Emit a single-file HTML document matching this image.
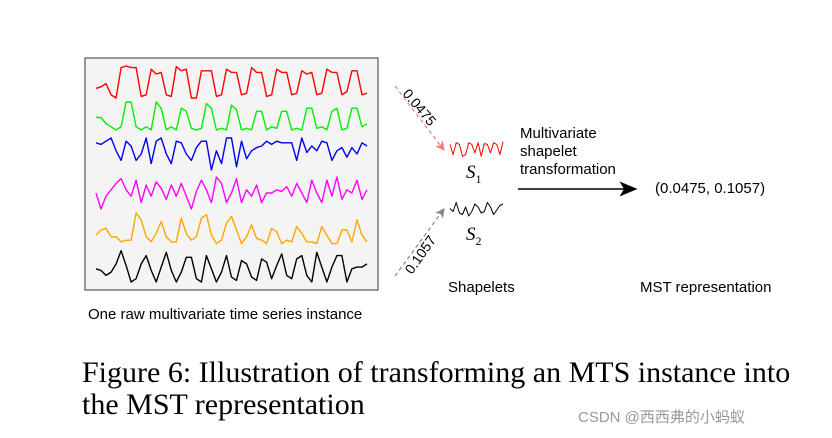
<!DOCTYPE html>
<html><head><meta charset="utf-8"><style>
body{margin:0;background:#fff;}
#c{position:relative;width:832px;height:438px;overflow:hidden;font-family:"Liberation Sans",sans-serif;}
.t{position:absolute;white-space:nowrap;color:#000;}
</style></head><body>
<div id="c">
<svg id="svg" width="832" height="438" style="position:absolute;left:0;top:0">
<defs>
<marker id="ar" markerWidth="8" markerHeight="8" refX="7" refY="4" orient="auto"><path d="M0,0L8,4L0,8L2,4z" fill="#f08080"/></marker>
<marker id="ag" markerWidth="8" markerHeight="8" refX="7" refY="4" orient="auto"><path d="M0,0L8,4L0,8L2,4z" fill="#888"/></marker>
<marker id="ab" markerWidth="12" markerHeight="10" refX="11" refY="5" orient="auto"><path d="M0,0L12,5L0,10L3,5z" fill="#000"/></marker>
</defs>
<rect x="85" y="58" width="293" height="232" fill="#f4f4f4" stroke="#555" stroke-width="1.2"/>
<g id="series"></g>
<line x1="395" y1="86" x2="444" y2="150" stroke="#f08080" stroke-width="1.2" stroke-dasharray="4,3" marker-end="url(#ar)"/>
<line x1="395" y1="276" x2="444" y2="209" stroke="#888" stroke-width="1.2" stroke-dasharray="4,3" marker-end="url(#ag)"/>
<line x1="518" y1="189" x2="636" y2="189" stroke="#000" stroke-width="1.5" marker-end="url(#ab)"/>
<text x="402" y="94" font-size="14" transform="rotate(50 402 94)" font-family="Liberation Sans">0.0475</text>
<text x="412" y="275" font-size="14" transform="rotate(-55 412 275)" font-family="Liberation Sans">0.1057</text>
</svg>
<div class="t" style="left:466px;top:162px;font-family:'Liberation Serif',serif;font-style:italic;font-size:19px">S<sub style="font-style:normal;font-size:12px">1</sub></div>
<div class="t" style="left:466px;top:224px;font-family:'Liberation Serif',serif;font-style:italic;font-size:19px">S<sub style="font-style:normal;font-size:12px">2</sub></div>
<div class="t" style="left:520px;top:125px;font-size:15px;line-height:18px">Multivariate<br>shapelet<br>transformation</div>
<div class="t" style="left:655px;top:180px;font-size:15px">(0.0475, 0.1057)</div>
<div class="t" style="left:448px;top:279px;font-size:15px">Shapelets</div>
<div class="t" style="left:640px;top:279px;font-size:15px">MST representation</div>
<div class="t" style="left:88px;top:306px;font-size:15px">One raw multivariate time series instance</div>
<div class="t" style="left:82px;top:357px;font-family:'Liberation Serif',serif;font-size:30px;line-height:32px">Figure 6: Illustration of transforming an MTS instance into<br>the MST representation</div>
<div class="t" style="left:578px;top:406px;font-size:15px;color:#999;font-family:'Liberation Sans','Noto Sans CJK SC',sans-serif">CSDN @西西弗的小蚂蚁</div>
</div>
<script>
const redVals=[.3,.35,.45,.1,.0,.95,1,.95,.95,.05,.1,.9,.75,.8,.1,.05,.98,.85,.9,.0,.0,.85,.85,.85,.05,.1,.9,.8,.8,.1,.15,.95,.8,.8,.05,.1,.9,.8,.8,.1,.15,.85,.75,.8,.1,.15,.9,.8,.8,.1,.2,.85,.85,.1,.15];
const greenVals=[.5,.5,.3,.2,.1,.2,1,1,.2,.1,.2,.1,1,.8,.1,.2,.1,.8,.7,.15,.1,.15,.95,.8,.1,.15,.1,.9,.75,.1,.15,.1,.7,.7,.1,.2,.15,.7,.7,.1,.15,.1,.8,.8,.15,.2,.1,.7,.8,.1,.15,.8,.8,.2,.3];
const blueVals=[.85,.8,.9,1,.6,.3,.9,.75,.3,.5,1,.2,.9,1,.5,.2,.9,.85,.5,.3,.7,.9,.9,.0,.6,.2,1,1,.1,.9,.35,.6,.7,.75,.9,.8,.9,.85,.85,.85,.3,1,.55,.75,.6,.9,.85,.3,.6,.7,.4,.7,.5,.85,.75];
const magentaVals=[.5,.0,.4,.6,.8,.95,.6,.4,.9,.2,.75,.4,.85,.65,.3,.75,.4,.8,.4,.0,.55,.9,.6,.2,1,.8,.2,.5,.95,.2,.6,.4,.75,.2,.5,.5,.6,.55,.7,.4,.8,.5,.2,.9,.5,.2,.9,.4,1,.3,.6,.5,.9,.3,.6];
const orangeVals=[.35,.5,.55,.3,.3,.15,.2,.2,1,.8,.3,.15,.4,.75,.3,.15,.15,.85,.4,.2,.3,.85,.95,.35,.1,.2,.7,.9,.5,.1,.3,.65,.25,.2,.1,.55,.45,.1,.2,.15,.6,.4,.15,.15,.1,.6,.35,.1,.1,.5,.5,.15,.8,.35,.15];
const blackVals=[.4,.35,.2,.3,.55,.95,.5,.0,.1,.55,.8,.35,.0,.45,.9,.35,.0,.3,.75,.75,.1,.0,.8,.4,.0,.3,.8,.15,.05,.65,.55,.15,.05,.7,.6,.1,.5,.85,.2,.1,.7,.8,.2,.0,.9,.45,.0,.45,.8,.8,.0,.4,.45,.45,.55];
const s1Vals=[.8,.2,.9,.8,.1,.2,.9,.8,.3,.9,.1,.85,.8,.3,.9,.8,.2,.95];
const s2Vals=[.5,.3,.9,.2,.1,.6,.0,.3,.8,.6,.2,.3,.9,.6,.1,.4,.7,.8];
const svg=document.getElementById('svg'),g=document.getElementById('series');
function xScale(i,n,x0,x1){return x0+i*(x1-x0)/(n-1);}
function yScale(v,top,bot){return bot-v*(bot-top);}
function draw(vals,color,top,bot,x0,x1,name,parent,w){
  const p=document.createElementNS('http://www.w3.org/2000/svg','polyline');
  p.setAttribute('points',vals.map((v,i)=>xScale(i,vals.length,x0,x1).toFixed(1)+','+yScale(v,top,bot).toFixed(1)).join(' '));
  p.setAttribute('fill','none');p.setAttribute('stroke',color);p.setAttribute('stroke-width',w);p.setAttribute('stroke-linejoin','round');
  
  
  parent.appendChild(p);
}
draw(redVals,'#ff0000',66,98,96,367,'series-red',g,1.4);
draw(greenVals,'#00ee00',102,133,96,367,'series-green',g,1.4);
draw(blueVals,'#0000ee',138,170,96,367,'series-blue',g,1.4);
draw(magentaVals,'#ff00ff',177,209,96,367,'series-magenta',g,1.4);
draw(orangeVals,'#ffa500',213,247,96,367,'series-orange',g,1.4);
draw(blackVals,'#000000',249,282,96,367,'series-black',g,1.4);
draw(s1Vals,'#ff0000',141,158,450,503,'shapelet-s1',svg,1);
draw(s2Vals,'#000000',201,216,450,503,'shapelet-s2',svg,1);
</script>
</body></html>
